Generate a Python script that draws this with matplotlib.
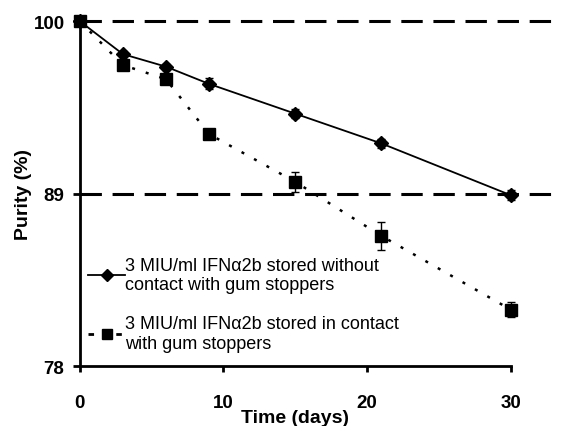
import matplotlib.pyplot as plt
from matplotlib.lines import Line2D

plt.rcParams['font.family'] = ['Liberation Sans', 'DejaVu Sans']

days = [0, 3, 6, 9, 15, 21, 30]
no_contact = [100, 97.9, 97.1, 96.0, 94.1, 92.2, 88.9]
no_contact_err = [0, 0.2, 0.2, 0.35, 0.3, 0.3, 0.3]
contact = [100, 97.2, 96.3, 92.8, 89.75, 86.3, 81.6]
contact_err = [0, 0.2, 0.3, 0.25, 0.65, 0.9, 0.5]
ref_levels = [100, 89]
label_a = '3 MIU/ml IFN\u03b12b stored without\ncontact with gum stoppers'
label_b = '3 MIU/ml IFN\u03b12b stored in contact\nwith gum stoppers'

fig = plt.figure(figsize=(5.7, 4.27), dpi=100)
ax = fig.add_axes([0.140, 0.1405, 0.756, 0.8075])

# reference lines run a bit past the last tick
for lvl in ref_levels:
    ax.axhline(lvl, xmin=0, xmax=1.105, color='black', lw=2.2,
               dashes=(7, 3.5), clip_on=False, zorder=1)

ax.errorbar(days, no_contact, yerr=no_contact_err, color='black', lw=1.3,
            marker='D', markersize=7, capsize=3, elinewidth=1, clip_on=False, zorder=3)
ax.errorbar(days, contact, yerr=contact_err, color='black', lw=1.8,
            marker='s', markersize=8, capsize=3, elinewidth=1, clip_on=False,
            dashes=(1.2, 4.5), zorder=3)

ax.set_xlim(0, 30)
ax.set_ylim(78, 100)
ax.set_xticks([0, 10, 20, 30])
ax.set_yticks([78, 89, 100])
ax.spines['top'].set_visible(False)
ax.spines['right'].set_visible(False)
ax.spines['left'].set_linewidth(2)
ax.spines['bottom'].set_linewidth(2)
ax.tick_params(axis='y', direction='out', width=2, length=5, labelsize=13.5, pad=6)
ax.tick_params(axis='x', direction='out', width=2, length=4, labelsize=13.5, pad=16)
for lab in ax.get_xticklabels() + ax.get_yticklabels():
    lab.set_fontweight('bold')

ax.set_xlabel('Time (days)', fontsize=14, fontweight='bold', labelpad=-1)
ax.set_ylabel('Purity (%)', fontsize=14, fontweight='bold', labelpad=1)

handles = [
    Line2D([], [], color='black', lw=1.3, marker='D', markersize=6),
    Line2D([], [], color='black', lw=2, marker='s', markersize=7.5, dashes=(2, 3)),
]
ax.legend(handles, [label_a, label_b], loc='lower left', bbox_to_anchor=(-0.005, 0.01),
          frameon=False, fontsize=13, handlelength=2.0, handletextpad=0.05,
          labelspacing=1.2, borderaxespad=0.2)

fig.savefig('out.png', dpi=100)
